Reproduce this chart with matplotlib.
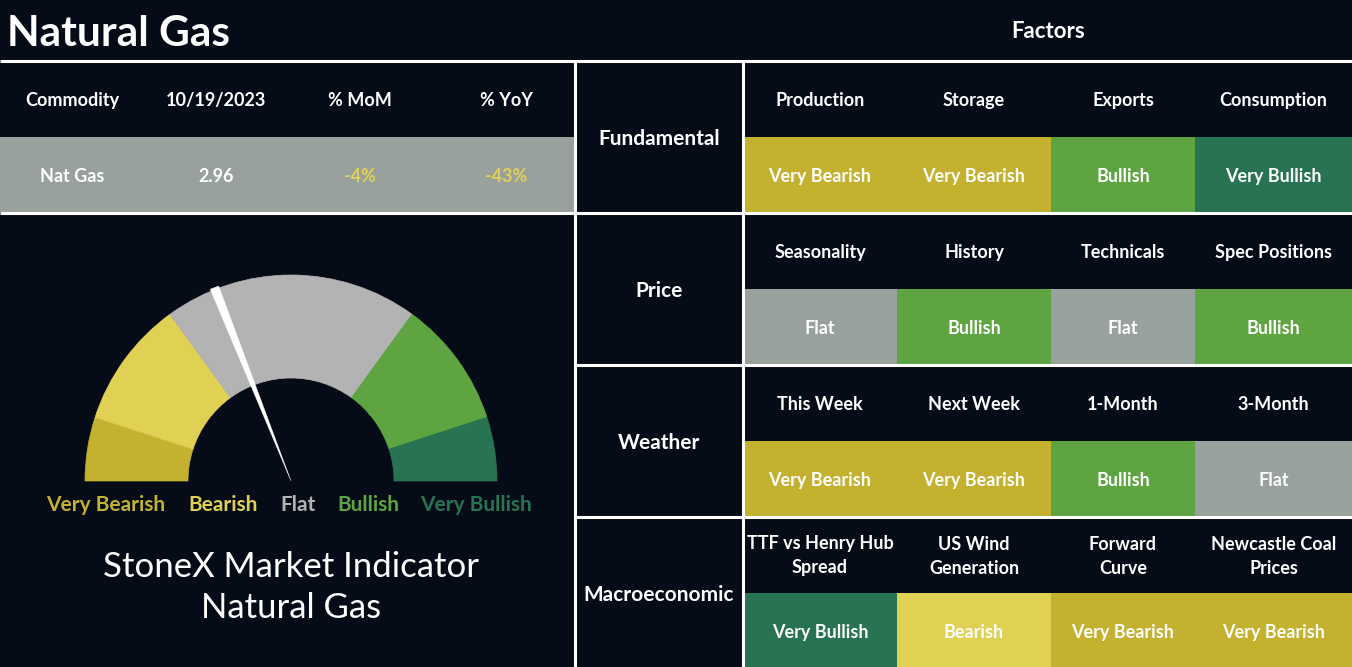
import numpy as np
import matplotlib
matplotlib.use("Agg")
import matplotlib.pyplot as plt
from matplotlib.patches import Rectangle, Wedge, Polygon

plt.rcParams['font.family'] = ['Lato', 'DejaVu Sans']

# ---- data ----
commodity = "Nat Gas"
price_date = "10/19/2023"
price = 2.96
pct_mom = -4
pct_yoy = -43

scale_labels = ["Very Bearish", "Bearish", "Flat", "Bullish", "Very Bullish"]
scale_widths = [1, 2, 4, 2, 1]          # share of the half circle per band
needle_value = 0.38                      # 0 = far left, 1 = far right

groups = ["Fundamental", "Price", "Weather", "Macroeconomic"]
factor_names = [
    ["Production", "Storage", "Exports", "Consumption"],
    ["Seasonality", "History", "Technicals", "Spec Positions"],
    ["This Week", "Next Week", "1-Month", "3-Month"],
    ["TTF vs Henry Hub\nSpread", "US Wind\nGeneration", "Forward\nCurve", "Newcastle Coal\nPrices"],
]
factor_signals = [
    ["Very Bearish", "Very Bearish", "Bullish", "Very Bullish"],
    ["Flat", "Bullish", "Flat", "Bullish"],
    ["Very Bearish", "Very Bearish", "Bullish", "Flat"],
    ["Very Bullish", "Bearish", "Very Bearish", "Very Bearish"],
]

# ---- style ----
BG = "#050c18"
WHITE = "#ffffff"
cell_colors = {"Very Bearish": "#c4b130", "Bearish": "#e0d154", "Flat": "#99a19f",
               "Bullish": "#5ea542", "Very Bullish": "#277352"}
gauge_colors = ["#c4b130", "#e0d154", "#b3b3b3", "#5ea542", "#277352"]
label_colors = ["#c4b130", "#e0d154", "#b3b3b3", "#5ea542", "#277352"]
FS = 13  # table text size

W, H = 1352, 667
fig = plt.figure(figsize=(W / 100, H / 100), dpi=100, facecolor=BG)
ax = fig.add_axes([0, 0, 1, 1])
ax.set_xlim(0, W)
ax.set_ylim(H, 0)
ax.axis("off")
ax.set_facecolor(BG)


def label(x, y, s, **kw):
    # single-line labels: centre on the cap height, not the descenders
    ax.text(x, y, s, ha="center", va="center_baseline", **kw)


# ---- titles ----
ax.text(7, 31, "Natural Gas", color=WHITE, fontsize=30.5, fontweight="bold",
        ha="left", va="center_baseline")
label(1048, 30, "Factors", color=WHITE, fontsize=16, fontweight="bold")

# ---- left price table ----
top, row_h = 61, 76
ax.add_patch(Rectangle((0, top + row_h), 575, row_h - 1, color="#99a19f", lw=0))
col_x = [72, 216, 360, 506]
headers = ["Commodity", price_date, "% MoM", "% YoY"]
values = [commodity, f"{price:.2f}", f"{pct_mom}%", f"{pct_yoy}%"]
val_colors = [WHITE, WHITE, "#e0d154", "#e0d154"]
for x, h, v, c in zip(col_x, headers, values, val_colors):
    label(x, top + row_h / 2, h, color=WHITE, fontsize=FS, fontweight="bold")
    label(x, top + row_h * 1.5, v, color=c, fontsize=FS, fontweight="bold")

# ---- gauge ----
cx, cy, r_out, r_in = 291, 481, 206, 103
bounds = np.concatenate([[0], np.cumsum(scale_widths)]) / sum(scale_widths)
for i, col in enumerate(gauge_colors):
    a1 = 180 - bounds[i] * 180      # visual angle (counter-clockwise)
    a2 = 180 - bounds[i + 1] * 180
    # y axis is inverted, so visual angle a becomes -a in data space
    ax.add_patch(Wedge((cx, cy), r_out, -a1, -a2, width=r_out - r_in,
                       facecolor=col, edgecolor=col, lw=0.5))

ang = np.deg2rad(180 - needle_value * 180)
ux, uy = np.cos(ang), -np.sin(ang)
px, py = -uy, ux
half = 4.5
tip_r = r_out + 2
needle = Polygon([(cx, cy),
                  (cx + ux * tip_r + px * half, cy + uy * tip_r + py * half),
                  (cx + ux * tip_r - px * half, cy + uy * tip_r - py * half)],
                 closed=True, facecolor=WHITE, edgecolor=WHITE, lw=0.3)
ax.add_patch(needle)

label_x = [106, 223, 298, 368, 476]
for x, lab, c in zip(label_x, scale_labels, label_colors):
    label(x, 503, lab, color=c, fontsize=15, fontweight="bold")

label(291, 564, "StoneX Market Indicator", color=WHITE, fontsize=25)
label(291, 605, "Natural Gas", color=WHITE, fontsize=25)

# ---- factor grid ----
col_edges = [743, 897, 1051, 1195, 1352]
grp_h = 152
for g, grp in enumerate(groups):
    y0 = top + g * grp_h
    label(659, y0 + grp_h / 2, grp, color=WHITE, fontsize=15, fontweight="bold")
    for j in range(4):
        x0, x1 = col_edges[j], col_edges[j + 1]
        sig = factor_signals[g][j]
        ax.add_patch(Rectangle((x0, y0 + row_h), x1 - x0, grp_h - row_h,
                               color=cell_colors[sig], lw=0))
        name = factor_names[g][j]
        if "\n" in name:
            ax.text((x0 + x1) / 2, y0 + row_h / 2 + 1, name, color=WHITE,
                    fontsize=FS, fontweight="bold", ha="center", va="center",
                    linespacing=1.5)
        else:
            label((x0 + x1) / 2, y0 + row_h / 2, name, color=WHITE,
                  fontsize=FS, fontweight="bold")
        label((x0 + x1) / 2, y0 + row_h + (grp_h - row_h) / 2, sig, color=WHITE,
              fontsize=FS, fontweight="bold")

# ---- white rules ----
lw = 2.2
ax.plot([0, W], [top, top], color=WHITE, lw=lw, solid_capstyle="butt")
ax.plot([0, W], [top + grp_h, top + grp_h], color=WHITE, lw=lw, solid_capstyle="butt")
for g in (2, 3):
    ax.plot([575, W], [top + g * grp_h] * 2, color=WHITE, lw=lw, solid_capstyle="butt")
for x in (575, 743):
    ax.plot([x, x], [top, H], color=WHITE, lw=lw, solid_capstyle="butt")

fig.savefig("out.png", dpi=100, facecolor=BG)
